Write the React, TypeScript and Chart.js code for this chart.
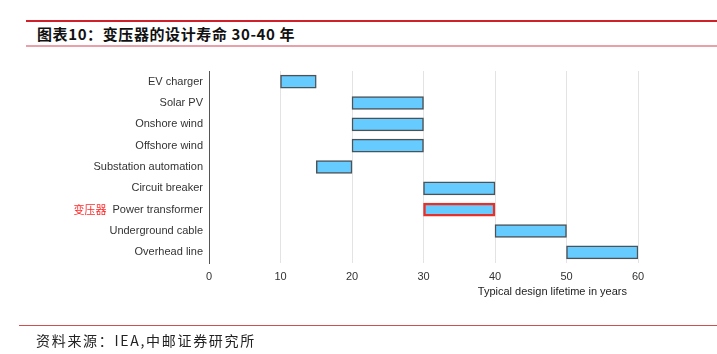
import React, { useEffect, useRef } from "react";
import { Chart, registerables } from "chart.js";

Chart.register(...registerables);

const categories = [
  "EV charger",
  "Solar PV",
  "Onshore wind",
  "Offshore wind",
  "Substation automation",
  "Circuit breaker",
  "Power transformer",
  "Underground cable",
  "Overhead line",
];
const startYears = [10, 20, 20, 20, 15, 30, 30, 40, 50];
const endYears = [15, 30, 30, 30, 20, 40, 40, 50, 60];
const highlightLabel = "Power transformer";
const highlightPrefix = "变压器";
const xTitle = "Typical design lifetime in years";
const chartTitle = "图表10：变压器的设计寿命 30-40 年";
const sourceText = "资料来源：IEA,中邮证券研究所";

const FONT = "'Liberation Sans', Arial, sans-serif";

export default function App() {
  const ref = useRef<HTMLCanvasElement | null>(null);

  useEffect(() => {
    document.body.style.margin = "0";
    const canvas = ref.current;
    if (!canvas) return;
    const textPlugin = {
      id: "extraText",
      afterDraw(chart: any) {
        const y = chart.scales.y;
        const x = chart.scales.x;
        const ctx = chart.ctx;
        ctx.save();
        const idx = categories.indexOf(highlightLabel);
        if (idx >= 0) {
          ctx.font = `11px ${FONT}`;
          const w = ctx.measureText(highlightLabel).width;
          const labelRight = y.right - 6;
          const py = y.getPixelForValue(idx);
          ctx.font = `11px 'Noto Sans CJK SC', sans-serif`;
          ctx.fillStyle = "#ff2a2a";
          ctx.textAlign = "right";
          ctx.textBaseline = "middle";
          ctx.fillText(highlightPrefix, labelRight - w - 6, py);
        }
        ctx.font = `11px ${FONT}`;
        ctx.fillStyle = "#222";
        ctx.textAlign = "right";
        ctx.textBaseline = "middle";
        ctx.fillText(xTitle, x.getPixelForValue(60) - 11, 292);
        ctx.restore();
      },
    };
    const chart = new Chart(canvas, {
      type: "bar",
      data: {
        labels: categories,
        datasets: [
          {
            data: categories.map((_, i) => [startYears[i], endYears[i]]) as any,
            backgroundColor: "#66ccff",
            borderColor: categories.map((c) =>
              c === highlightLabel ? "#e8302a" : "#4d5257"
            ),
            borderWidth: categories.map((c) => (c === highlightLabel ? 2.5 : 1.5)),
            borderSkipped: false,
            barThickness: 13,
          },
        ],
      },
      options: {
        indexAxis: "y",
        animation: false,
        responsive: false,
        maintainAspectRatio: false,
        layout: { padding: { left: 0, right: 79, top: 71, bottom: 0 } },
        plugins: {
          legend: { display: false },
          tooltip: { enabled: false },
        },
        scales: {
          x: {
            type: "linear",
            min: 0,
            max: 60,
            ticks: {
              stepSize: 10,
              color: "#333",
              padding: 7,
              font: { family: FONT, size: 11 },
            },
            grid: { color: "#e3e3e3", drawTicks: false, lineWidth: 1 },
            border: { display: false },
            title: { display: false },
            afterFit(scale: any) {
              scale.height = 91;
            },
          },
          y: {
            ticks: {
              color: "#333",
              padding: 6,
              font: { family: FONT, size: 11 },
            },
            grid: { display: false, drawTicks: false },
            border: { display: true, color: "#555", width: 1 },
            afterFit(scale: any) {
              scale.width = 209;
            },
          },
        },
      },
      plugins: [textPlugin],
    } as any);
    return () => chart.destroy();
  }, []);

  return (
    <div
      style={{
        position: "absolute",
        left: 0,
        top: 0,
        width: 717,
        height: 354,
        background: "#fff",
        overflow: "hidden",
      }}
    >
      <div
        style={{
          position: "absolute",
          left: 26,
          right: 0,
          top: 20,
          height: 2,
          background: "#d0202a",
        }}
      />
      <div
        style={{
          position: "absolute",
          left: 37,
          top: 24,
          fontFamily: "'Noto Sans CJK SC', sans-serif",
          fontWeight: 700,
          fontSize: 15,
          letterSpacing: "0.6px",
          lineHeight: "19px",
          color: "#111",
          whiteSpace: "nowrap",
        }}
      >
        {chartTitle}
      </div>
      <div
        style={{
          position: "absolute",
          left: 26,
          right: 0,
          top: 45,
          height: 2,
          background: "#eaa0a8",
        }}
      />
      <canvas
        ref={ref}
        width={717}
        height={354}
        style={{ position: "absolute", left: 0, top: 0, width: 717, height: 354 }}
      />
      <div
        style={{
          position: "absolute",
          left: 19,
          right: 0,
          top: 325,
          height: 1,
          background: "#d05050",
        }}
      />
      <div
        style={{
          position: "absolute",
          left: 36,
          top: 331,
          fontFamily: "'Noto Sans CJK SC', sans-serif",
          fontSize: 14,
          letterSpacing: "1.7px",
          lineHeight: "18px",
          color: "#222",
          whiteSpace: "nowrap",
        }}
      >
        {sourceText}
      </div>
    </div>
  );
}
